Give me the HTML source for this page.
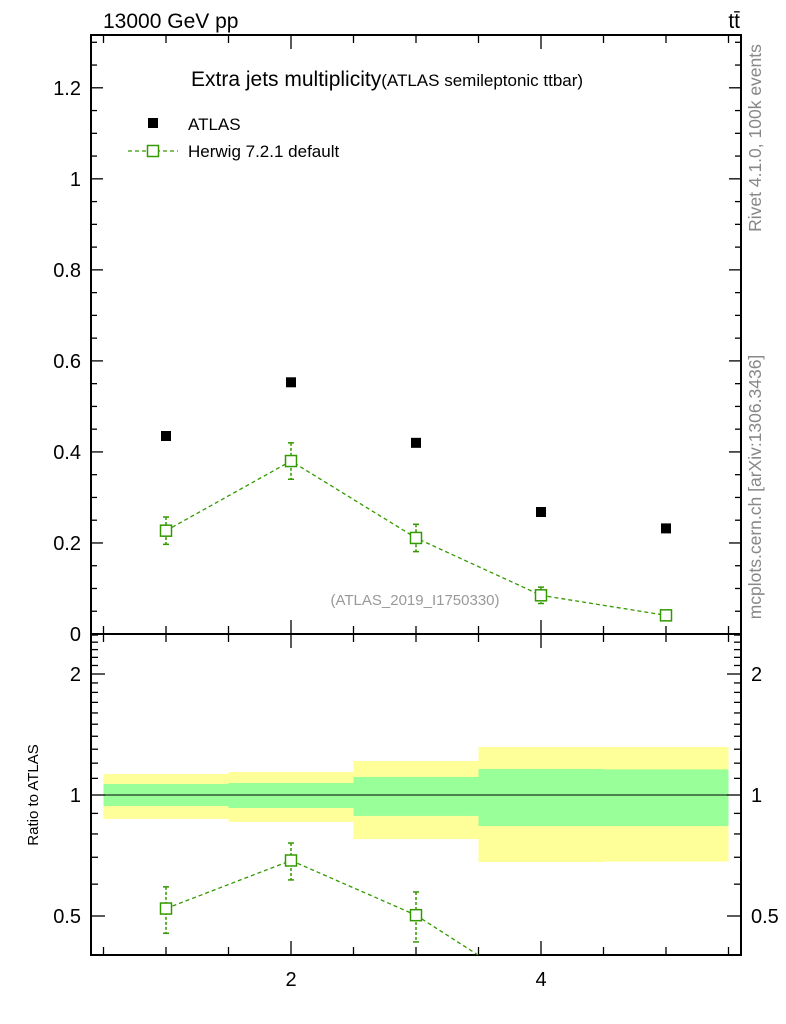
<!DOCTYPE html>
<html><head><meta charset="utf-8"><style>
html,body{margin:0;padding:0;background:#fff;width:786px;height:1024px;overflow:hidden;position:relative;}
svg{display:block;font-family:"Liberation Sans",sans-serif;}
</style></head><body>
<svg id="c" width="786" height="1024" style="position:absolute;left:0;top:0" xmlns="http://www.w3.org/2000/svg"></svg>
<script>
const bins=[1,2,3,4,5];
const atlas=[0.435,0.553,0.42,0.268,0.232];
const herwig=[0.227,0.38,0.211,0.085,0.041];
const herwigErr=[0.03,0.04,0.03,0.018,0.01];
const yellowHi=[1.128,1.141,1.215,1.317,1.317];
const yellowLo=[0.872,0.857,0.777,0.681,0.683];
const greenHi=[1.065,1.071,1.109,1.161,1.158];
const greenLo=[0.939,0.928,0.887,0.837,0.837];
const mainTicks=[0,0.2,0.4,0.6,0.8,1,1.2];
const ratioTicks=[0.5,1,2];

const svg=document.getElementById('c');
const NS='http://www.w3.org/2000/svg';
const L=91,R=741,T=35,M=634,B=955;
const X=v=>L+(v-0.4)/(5.2)*(R-L);
const Y=v=>M-v/1.316*(M-T);
const YR=v=>795-121*Math.log2(v);
function el(t,a,p){const e=document.createElementNS(NS,t);for(const k in a)e.setAttribute(k,a[k]);(p||svg).appendChild(e);return e;}
function txt(x,y,s,a){const e=el('text',Object.assign({x:x,y:y},a));e.textContent=s;return e;}

const gRatio=el('g',{});


bins.forEach((b,i)=>{
  const x0=X(b-0.5),x1=X(b+0.5);
  const y=el('rect',{x:x0,y:YR(yellowHi[i]),width:x1-x0,height:YR(yellowLo[i])-YR(yellowHi[i]),fill:'#ffff99'},gRatio);
  
  
  const g=el('rect',{x:x0,y:YR(greenHi[i]),width:x1-x0,height:YR(greenLo[i])-YR(greenHi[i]),fill:'#99ff99'},gRatio);
  
  
});
el('line',{x1:L,x2:R,y1:YR(1),y2:YR(1),stroke:'#000','stroke-width':1});

el('rect',{x:L,y:T,width:R-L,height:M-T,fill:'none',stroke:'#000','stroke-width':2});
el('rect',{x:L,y:M,width:R-L,height:B-M,fill:'none',stroke:'#000','stroke-width':2});

for(let v=0;v<=1.3001;v+=0.05){
  const maj=Math.abs(v/0.2-Math.round(v/0.2))<1e-6;const len=maj?12:6;const y=Y(v);
  el('line',{x1:L,x2:L+len,y1:y,y2:y,stroke:'#000','stroke-width':1.3});
  el('line',{x1:R,x2:R-len,y1:y,y2:y,stroke:'#000','stroke-width':1.3});
}
mainTicks.forEach(v=>{const t=txt(L-10,Y(v)+7,String(v),{'text-anchor':'end','font-size':20});
  });
for(let v=0.5;v<=5.5001;v+=0.5){
  const maj=Math.abs(v-Math.round(v))<1e-6&&Math.round(v)%2==0;const len=maj?14:8;const x=X(v);
  [[M,M-len],[T,T+len],[M,M+len],[B,B-len]].forEach(p=>el('line',{x1:x,x2:x,y1:p[0],y2:p[1],stroke:'#000','stroke-width':1.3}));
}
[2,4].forEach(v=>{const t=txt(X(v),986,String(v),{'text-anchor':'middle','font-size':20});
  });
const rt=[0.4,0.5,0.6,0.7,0.8,0.9,1,1.1,1.2,1.3,1.4,1.5,1.6,1.7,1.8,1.9,2,2.1,2.2,2.3,2.4,2.5];
rt.forEach(v=>{const maj=ratioTicks.includes(v);const len=maj?14:7;const y=YR(v);if(y<M||y>B)return;
  el('line',{x1:L,x2:L+len,y1:y,y2:y,stroke:'#000','stroke-width':1.3});
  el('line',{x1:R,x2:R-len,y1:y,y2:y,stroke:'#000','stroke-width':1.3});});
ratioTicks.forEach(v=>{
  const a=txt(L-10,YR(v)+7,String(v),{'text-anchor':'end','font-size':20});
  
  const b=txt(R+10,YR(v)+7,String(v),{'text-anchor':'start','font-size':20});
  });

bins.forEach((b,i)=>{const r=el('rect',{x:X(b)-5,y:Y(atlas[i])-5,width:10,height:10,fill:'#000'});
  });

const grn='#339900';
el('polyline',{points:bins.map((b,i)=>X(b)+','+Y(herwig[i])).join(' '),fill:'none',stroke:grn,'stroke-width':1.3,'stroke-dasharray':'4,3'});
bins.forEach((b,i)=>{
  el('line',{x1:X(b),x2:X(b),y1:Y(herwig[i]+herwigErr[i]),y2:Y(herwig[i]-herwigErr[i]),stroke:grn,'stroke-width':1.5,'stroke-dasharray':'3,2'});
  [herwig[i]+herwigErr[i],herwig[i]-herwigErr[i]].forEach(v=>el('line',{x1:X(b)-3,x2:X(b)+3,y1:Y(v),y2:Y(v),stroke:grn,'stroke-width':1.5}));
  const r=el('rect',{x:X(b)-5.5,y:Y(herwig[i])-5.5,width:11,height:11,fill:'#fff',stroke:grn,'stroke-width':1.5});
  
});

// ratio: segments clipped analytically to the panel
const rat=bins.map((b,i)=>herwig[i]/atlas[i]);
const cy=y=>Math.min(Math.max(y,M),B);
for(let i=0;i<bins.length-1;i++){
  let x1=X(bins[i]),y1=YR(rat[i]),x2=X(bins[i+1]),y2=YR(rat[i+1]);
  if((y1>B&&y2>B)||(y1<M&&y2<M))continue;
  const clipPt=(xa,ya,xb,yb)=>{const yl=ya>B?B:(ya<M?M:ya);if(yl===ya)return[xa,ya];const t=(yl-ya)/(yb-ya);return[xa+t*(xb-xa),yl];};
  const p1=clipPt(x1,y1,x2,y2),p2=clipPt(x2,y2,x1,y1);
  el('line',{x1:p1[0],y1:p1[1],x2:p2[0],y2:p2[1],stroke:grn,'stroke-width':1.3,'stroke-dasharray':'4,3'});
}
bins.forEach((b,i)=>{
  const e=herwigErr[i]/atlas[i];const yc=YR(rat[i]);
  if(yc>B-3||yc<M+3)return;
  el('line',{x1:X(b),x2:X(b),y1:cy(YR(rat[i]+e)),y2:cy(YR(Math.max(rat[i]-e,0.05))),stroke:grn,'stroke-width':1.5,'stroke-dasharray':'3,2'});
  [rat[i]+e,rat[i]-e].forEach(v=>{if(v>0&&YR(v)<B&&YR(v)>M)el('line',{x1:X(b)-3,x2:X(b)+3,y1:YR(v),y2:YR(v),stroke:grn,'stroke-width':1.5});});
  const r=el('rect',{x:X(b)-5.5,y:yc-5.5,width:11,height:11,fill:'#fff',stroke:grn,'stroke-width':1.5});
  
});
</script>
<svg width="786" height="1024" style="position:absolute;left:0;top:0;font-family:'Liberation Sans',sans-serif">
<text x="103" y="28" font-size="21">13000 GeV pp</text>
<text x="740" y="28" font-size="21" text-anchor="end">tt̄</text>
<text x="191" y="86" font-size="21">Extra jets multiplicity<tspan font-size="17">(ATLAS semileptonic ttbar)</tspan></text>
<rect x="148" y="118" width="10" height="10" fill="#000"/>
<text x="188" y="130" font-size="17">ATLAS</text>
<line x1="128" x2="178" y1="151" y2="151" stroke="#339900" stroke-width="1.3" stroke-dasharray="4,3"/>
<rect x="147.5" y="145.5" width="11" height="11" fill="#fff" stroke="#339900" stroke-width="1.5"/>
<text x="188" y="157" font-size="17">Herwig 7.2.1 default</text>
<text x="415" y="605" font-size="15" fill="#999" text-anchor="middle">(ATLAS_2019_I1750330)</text>
<text transform="translate(38,795) rotate(-90)" font-size="15" text-anchor="middle">Ratio to ATLAS</text>
<text transform="translate(761,138) rotate(-90)" font-size="17.5" fill="#888" text-anchor="middle">Rivet 4.1.0,  100k events</text>
<text transform="translate(761,487) rotate(-90)" font-size="17.5" fill="#888" text-anchor="middle">mcplots.cern.ch [arXiv:1306.3436]</text>
</svg>
</body></html>
